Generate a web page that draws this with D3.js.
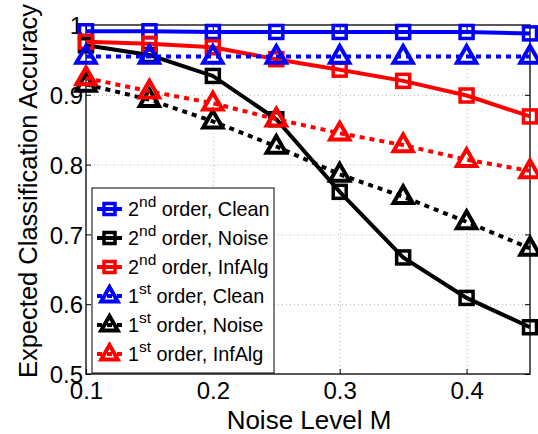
<!DOCTYPE html>
<html>
<head>
<meta charset="utf-8">
<script src="https://cdn.jsdelivr.net/npm/d3@7"></script>
<style>
  body { margin: 0; background: #fff; }
  svg { display: block; font-family: "Liberation Sans", Arial, sans-serif; }
  .grid line { stroke: #b0b0b0; stroke-width: 1; stroke-dasharray: 1,3; }
  .grid path { display: none; }
</style>
</head>
<body>
<svg id="chart" width="538" height="434"></svg>
<script>
// noise levels on the x axis
const noiseLevels = [0.1, 0.15, 0.2, 0.25, 0.3, 0.35, 0.4, 0.45];

// expected accuracy, one array per curve
const secondClean  = [0.991, 0.991, 0.990, 0.990, 0.990, 0.990, 0.990, 0.988];
const secondNoise  = [0.971, 0.957, 0.927, 0.865, 0.761, 0.667, 0.609, 0.567];
const secondInfAlg = [0.976, 0.973, 0.968, 0.951, 0.936, 0.920, 0.899, 0.869];
const firstClean   = [0.955, 0.955, 0.955, 0.955, 0.955, 0.955, 0.955, 0.955];
const firstNoise   = [0.915, 0.893, 0.862, 0.826, 0.786, 0.754, 0.718, 0.680];
const firstInfAlg  = [0.924, 0.905, 0.888, 0.865, 0.845, 0.828, 0.807, 0.791];

const xTicks = [0.1, 0.2, 0.3, 0.4];
const yTicks = [0.5, 0.6, 0.7, 0.8, 0.9, 1];

const series = [
  {order: "nd", label: "order, Clean",  values: secondClean,  color: "#0000ff", marker: "square",   dotted: false},
  {order: "nd", label: "order, Noise",  values: secondNoise,  color: "#000000", marker: "square",   dotted: false},
  {order: "nd", label: "order, InfAlg", values: secondInfAlg, color: "#ff0000", marker: "square",   dotted: false},
  {order: "st", label: "order, Clean",  values: firstClean,   color: "#0000ff", marker: "triangle", dotted: true},
  {order: "st", label: "order, Noise",  values: firstNoise,   color: "#000000", marker: "triangle", dotted: true},
  {order: "st", label: "order, InfAlg", values: firstInfAlg,  color: "#ff0000", marker: "triangle", dotted: true}
];

const padL = 86, padR = 530, padT = 25, padB = 374;
const width = padR - padL, height = padB - padT;

const svg = d3.select("#chart");
const g = svg.append("g").attr("transform", `translate(${padL},${padT})`);

const x = d3.scaleLinear().domain([0.1, 0.45]).range([0, width]);
const y = d3.scaleLinear().domain([0.5, 1]).range([height, 0]);

// dotted grid
g.append("g")
  .attr("class", "grid")
  .attr("transform", `translate(0,${height})`)
  .call(d3.axisBottom(x).tickValues(xTicks.slice(1)).tickSize(-height).tickFormat(""));
g.append("g")
  .attr("class", "grid")
  .call(d3.axisLeft(y).tickValues(yTicks.slice(1, -1)).tickSize(-width).tickFormat(""));

// frame
g.append("rect")
  .attr("width", width).attr("height", height)
  .attr("fill", "none").attr("stroke", "#000").attr("stroke-width", 1.3);

// inward ticks on all four sides
function tickAxis(axis, transform, vals, labels) {
  const a = g.append("g").attr("transform", transform)
    .call(axis.tickValues(vals).tickSizeInner(-5).tickSizeOuter(0).tickPadding(labels ? 10 : 0)
      .tickFormat(labels ? d3.format("") : ""));
  a.select(".domain").remove();
  a.selectAll("line").attr("stroke", "#000");
  a.selectAll("text").attr("font-size", 24).attr("fill", "#000")
    .attr("font-family", "Liberation Sans, Arial, sans-serif");
  return a;
}
tickAxis(d3.axisBottom(x), `translate(0,${height})`, xTicks, true)
  .selectAll("text").attr("dy", "0.72em").attr("y", 8);
tickAxis(d3.axisTop(x), "translate(0,0)", xTicks, false);
tickAxis(d3.axisLeft(y), "translate(0,0)", yTicks, true)
  .selectAll("text").attr("x", -3).attr("dy", "0.36em");
tickAxis(d3.axisRight(y), `translate(${width},0)`, yTicks, false);

// axis titles
svg.append("text")
  .attr("x", 309).attr("y", 428.5)
  .attr("text-anchor", "middle")
  .attr("font-size", 26)
  .text("Noise Level M");
svg.append("text")
  .attr("transform", "translate(37,191) rotate(-90)")
  .attr("text-anchor", "middle")
  .attr("font-size", 25.5)
  .text("Expected Classification Accuracy");

function drawMarker(sel, kind, color, s) {
  if (kind === "square") {
    sel.append("rect")
      .attr("x", -s / 2).attr("y", -s / 2)
      .attr("width", s).attr("height", s)
      .attr("fill", "none").attr("stroke", color).attr("stroke-width", 3.5);
  } else {
    const hw = s * 0.46, up = s * 0.5, dn = s * 0.3;
    sel.append("path")
      .attr("d", `M0,${-up}L${hw},${dn}L${-hw},${dn}Z`)
      .attr("fill", "none").attr("stroke", color).attr("stroke-width", 4)
      .attr("stroke-linejoin", "miter");
  }
}

const line = d3.line()
  .x((d, i) => x(noiseLevels[i]))
  .y(d => y(d));

series.forEach(s => {
  const sg = g.append("g");
  sg.append("path")
    .datum(s.values)
    .attr("d", line)
    .attr("fill", "none")
    .attr("stroke", s.color)
    .attr("stroke-width", 4)
    .attr("stroke-dasharray", s.dotted ? "5,5" : null);
  sg.selectAll("g.mk")
    .data(s.values)
    .enter()
    .append("g")
    .attr("class", "mk")
    .attr("transform", (d, i) => `translate(${x(noiseLevels[i])},${y(d)})`)
    .each(function() { drawMarker(d3.select(this), s.marker, s.color, s.marker === "square" ? 13 : 21); });
});

// legend
const leg = svg.append("g");
leg.append("rect")
  .attr("x", 92).attr("y", 188)
  .attr("width", 182).attr("height", 185)
  .attr("fill", "#fff").attr("stroke", "#000").attr("stroke-width", 1);

series.forEach((s, i) => {
  const by = 216 + i * 29;
  const cy = by - 7;
  const row = leg.append("g");
  row.append("line")
    .attr("x1", 97).attr("x2", 122)
    .attr("y1", cy).attr("y2", cy)
    .attr("stroke", s.color).attr("stroke-width", 4)
    .attr("stroke-dasharray", s.dotted ? "5,5" : null);
  const m = row.append("g").attr("transform", `translate(109.5,${cy})`);
  drawMarker(m, s.marker, s.color, s.marker === "square" ? 11 : 18);
  const t = row.append("text")
    .attr("x", 128).attr("y", by)
    .attr("font-size", 19.8);
  t.append("tspan").text(s.order === "nd" ? "2" : "1");
  t.append("tspan").attr("font-size", 15.5).attr("dy", -9).text(s.order);
  t.append("tspan").attr("dy", 9).text(" " + s.label);
});
</script>
</body>
</html>
